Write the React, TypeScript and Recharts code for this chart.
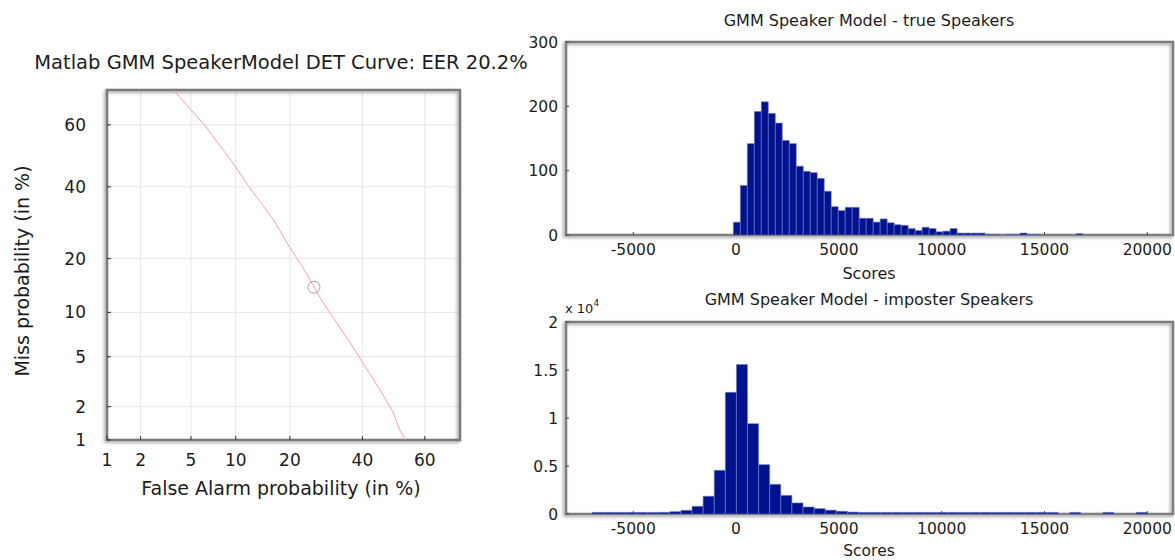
import React from 'react';
import {
  ComposedChart,
  Line,
  Scatter,
  XAxis,
  YAxis,
  CartesianGrid,
  ReferenceArea,
  BarChart,
  Bar,
} from 'recharts';

// ---------- DET curve data (percent) ----------
const detTickLabels = [1, 2, 5, 10, 20, 40, 60];
const detFalseAlarm = [3.65, 6.3, 9.9, 11.9, 16.4, 20.0, 23.1, 28.3, 32.2, 38.2, 40.1, 45.5, 49.8, 52.0, 53.9];
const detMiss = [70.8, 59.7, 46.7, 40.3, 30.2, 22.6, 18.0, 11.5, 8.6, 5.35, 4.5, 2.8, 1.8, 1.24, 1.0];
const eerFalseAlarm = [25.9];
const eerMiss = [14.1];
const detRange = [1, 70.5];

// ---------- Histogram data ----------
const trueBinStart = -131;
const trueBinWidth = 340;
const trueCounts = [
  20, 77, 142, 192, 207, 189, 174, 147, 142, 107, 99, 97, 88, 68, 44, 38, 43, 43, 26, 26,
  20, 25, 19, 16, 15, 10, 7, 12, 10, 5, 6, 10, 3, 3, 3, 3, 1, 1, 0, 1,
  1, 3, 1, 1, 0, 0, 0, 0, 0, 2,
];
const impBinStart = -7000;
const impBinWidth = 540;
const impCounts = [
  160, 160, 160, 160, 160, 160, 170, 240, 380, 800, 1850, 4550, 12670, 15560, 9410, 5140, 3090, 1940, 1150, 730,
  560, 400, 280, 200, 160, 160, 160, 160, 160, 160, 160, 160, 160, 160, 160, 160, 160, 160, 160, 160,
  160, 160, 0, 160, 0, 0, 160, 0, 0, 160,
];
const scoreTicks = [-5000, 0, 5000, 10000, 15000, 20000];
const scoreDomain = [-8270, 21250];
const trueYTicks = [0, 100, 200, 300];
const impYTicks = [0, 5000, 10000, 15000, 20000];

// ---------- helpers ----------
function probit(p: number): number {
  const a = [-3.969683028665376e1, 2.209460984245205e2, -2.759285104469687e2, 1.38357751867269e2, -3.066479806614716e1, 2.506628277459239];
  const b = [-5.447609879822406e1, 1.615858368580409e2, -1.556989798598866e2, 6.680131188771972e1, -1.328068155288572e1];
  const c = [-7.784894002430293e-3, -3.223964580411365e-1, -2.400758277161838, -2.549732539343734, 4.374664141464968, 2.938163982698783];
  const d = [7.784695709041462e-3, 3.224671290700398e-1, 2.445134137142996, 3.754408661907416];
  const plow = 0.02425;
  if (p < plow) {
    const q = Math.sqrt(-2 * Math.log(p));
    return (((((c[0] * q + c[1]) * q + c[2]) * q + c[3]) * q + c[4]) * q + c[5]) / ((((d[0] * q + d[1]) * q + d[2]) * q + d[3]) * q + 1);
  }
  if (p > 1 - plow) {
    const q = Math.sqrt(-2 * Math.log(1 - p));
    return -(((((c[0] * q + c[1]) * q + c[2]) * q + c[3]) * q + c[4]) * q + c[5]) / ((((d[0] * q + d[1]) * q + d[2]) * q + d[3]) * q + 1);
  }
  const q = p - 0.5;
  const r = q * q;
  return ((((((a[0] * r + a[1]) * r + a[2]) * r + a[3]) * r + a[4]) * r + a[5]) * q) / (((((b[0] * r + b[1]) * r + b[2]) * r + b[3]) * r + b[4]) * r + 1);
}

const detTicks = detTickLabels.map((v) => probit(v / 100));
const detDomain = [probit(detRange[0] / 100), probit(detRange[1] / 100)];
const detData = detFalseAlarm.map((fa, i) => ({ x: probit(fa / 100), y: probit(detMiss[i] / 100) }));
const eerData = eerFalseAlarm.map((fa, i) => ({ x: probit(fa / 100), y: probit(eerMiss[i] / 100) }));
const detFmt = (v: number) => {
  let best = 0;
  detTicks.forEach((t, i) => {
    if (Math.abs(t - v) < Math.abs(detTicks[best] - v)) best = i;
  });
  return String(detTickLabels[best]);
};

const trueData = trueCounts.map((c, i) => ({ x: trueBinStart + (i + 0.5) * trueBinWidth, count: c }));
const impData = impCounts.map((c, i) => ({ x: impBinStart + (i + 0.5) * impBinWidth, count: c }));

const DV = 'DejaVu Sans, Verdana, sans-serif';
const TXT = '#1c1c1c';
const BAR_FILL = '#00128f';
const BAR_EDGE = '#6d78bd';

const ShadowDefs = ({ id }: { id: string }) => (
  <defs>
    <filter id={id} x="-5%" y="-5%" width="110%" height="110%">
      <feDropShadow dx="-1.5" dy="1.5" stdDeviation="1.6" floodColor="#000" floodOpacity="0.4" />
    </filter>
  </defs>
);

const EerMarker = (props: any) => {
  const { cx, cy } = props;
  return <circle cx={cx} cy={cy} r={6} fill="none" stroke="#a0a0a0" strokeWidth={1} />;
};

function DetChart() {
  return (
    <ComposedChart width={540} height={560} margin={{ top: 90, right: 80, bottom: 80, left: 47 }}>
      <ShadowDefs id="detShadow" />
      <CartesianGrid stroke="#e7e7e7" strokeWidth={1} />
      <XAxis
        type="number"
        dataKey="x"
        domain={detDomain}
        ticks={detTicks}
        interval={0}
        allowDataOverflow
        tickFormatter={detFmt}
        height={40}
        axisLine={false}
        tickSize={-4}
        tickMargin={18}
        tickLine={{ stroke: '#333' }}
        tick={{ fill: TXT, fontSize: 17, fontFamily: DV }}
      />
      <YAxis
        type="number"
        dataKey="y"
        domain={detDomain}
        ticks={detTicks}
        interval={0}
        allowDataOverflow
        tickFormatter={detFmt}
        width={60}
        axisLine={false}
        tickSize={-4}
        tickMargin={25}
        tickLine={{ stroke: '#333' }}
        tick={{ fill: TXT, fontSize: 17, fontFamily: DV }}
      />
      <XAxis
        xAxisId="top"
        orientation="top"
        type="number"
        dataKey="x"
        domain={detDomain}
        ticks={detTicks}
        interval={0}
        allowDataOverflow
        height={0}
        axisLine={false}
        tick={false}
        tickSize={-4}
        tickLine={{ stroke: '#333' }}
      />
      <YAxis
        yAxisId="right"
        orientation="right"
        type="number"
        dataKey="y"
        domain={detDomain}
        ticks={detTicks}
        interval={0}
        allowDataOverflow
        width={0}
        axisLine={false}
        tick={false}
        tickSize={-4}
        tickLine={{ stroke: '#333' }}
      />
      <ReferenceArea
        x1={detDomain[0]}
        x2={detDomain[1]}
        y1={detDomain[0]}
        y2={detDomain[1]}
        fill="none"
        fillOpacity={0}
        stroke="#7a7a7a"
        strokeWidth={2.5}
        filter="url(#detShadow)"
        ifOverflow="visible"
      />
      <Line
        data={detData}
        dataKey="y"
        type="linear"
        stroke="#f2a4a4"
        strokeWidth={1}
        dot={false}
        activeDot={false}
        isAnimationActive={false}
      />
      <Scatter data={eerData} dataKey="y" shape={<EerMarker />} isAnimationActive={false} />
    </ComposedChart>
  );
}

function Histogram({
  data,
  yTicks,
  yFmt,
  width,
  height,
  margin,
  shadowId,
}: {
  data: { x: number; count: number }[];
  yTicks: number[];
  yFmt: (v: number) => string;
  width: number;
  height: number;
  margin: { top: number; right: number; bottom: number; left: number };
  shadowId: string;
}) {
  const yDomain = [yTicks[0], yTicks[yTicks.length - 1]];
  return (
    <BarChart width={width} height={height} data={data} margin={margin} barCategoryGap={0} barGap={0}>
      <ShadowDefs id={shadowId} />
      <XAxis
        type="number"
        dataKey="x"
        domain={scoreDomain}
        ticks={scoreTicks}
        interval={0}
        allowDataOverflow
        height={30}
        axisLine={false}
        tickSize={-3}
        tickMargin={12}
        tickLine={{ stroke: '#444' }}
        tick={{ fill: TXT, fontSize: 15.5, fontFamily: DV }}
      />
      <YAxis
        type="number"
        domain={yDomain}
        ticks={yTicks}
        interval={0}
        allowDataOverflow
        tickFormatter={yFmt}
        width={50}
        axisLine={false}
        tickSize={-3}
        tickMargin={11}
        tickLine={{ stroke: '#444' }}
        tick={{ fill: TXT, fontSize: 15.5, fontFamily: DV }}
      />
      <XAxis
        xAxisId="top"
        orientation="top"
        type="number"
        dataKey="x"
        domain={scoreDomain}
        ticks={scoreTicks}
        interval={0}
        allowDataOverflow
        height={0}
        axisLine={false}
        tick={false}
        tickSize={-3}
        tickLine={{ stroke: '#444' }}
      />
      <YAxis
        yAxisId="right"
        orientation="right"
        type="number"
        domain={yDomain}
        ticks={yTicks}
        interval={0}
        allowDataOverflow
        width={0}
        axisLine={false}
        tick={false}
        tickSize={-3}
        tickLine={{ stroke: '#444' }}
      />
      <Bar dataKey="count" fill={BAR_FILL} stroke={BAR_EDGE} strokeWidth={0.6} isAnimationActive={false} />
      <ReferenceArea
        x1={scoreDomain[0]}
        x2={scoreDomain[1]}
        y1={yDomain[0]}
        y2={yDomain[1]}
        fill="none"
        fillOpacity={0}
        stroke="#7f7f7f"
        strokeWidth={2.5}
        filter={`url(#${shadowId})`}
        ifOverflow="visible"
      />
    </BarChart>
  );
}

export default function App() {
  return (
    <div
      style={{
        position: 'absolute',
        left: 0,
        top: 0,
        width: 1175,
        height: 560,
        background: '#fff',
        overflow: 'hidden',
      }}
    >
      <div style={{ position: 'absolute', left: 0, top: 0 }}>
        <DetChart />
      </div>
      <div style={{ position: 'absolute', left: 480, top: 0 }}>
        <Histogram
          data={trueData}
          yTicks={trueYTicks}
          yFmt={(v) => String(v)}
          width={695}
          height={290}
          margin={{ top: 42, right: 2, bottom: 25, left: 36 }}
          shadowId="trueShadow"
        />
      </div>
      <div style={{ position: 'absolute', left: 480, top: 280 }}>
        <Histogram
          data={impData}
          yTicks={impYTicks}
          yFmt={(v) => String(v / 10000)}
          width={695}
          height={280}
          margin={{ top: 42, right: 2, bottom: 16, left: 36 }}
          shadowId="impShadow"
        />
      </div>
      <svg
        width={1175}
        height={560}
        style={{ position: 'absolute', left: 0, top: 0, pointerEvents: 'none' }}
      >
        <g fill={TXT} fontFamily={DV}>
          <text x={281} y={68.8} fontSize={19.5} textAnchor="middle">
            Matlab GMM SpeakerModel DET Curve: EER 20.2%
          </text>
          <text x={281} y={495} fontSize={19} textAnchor="middle">
            False Alarm probability (in %)
          </text>
          <text x={29.3} y={271} fontSize={19} textAnchor="middle" transform="rotate(-90 29.3 271)">
            Miss probability (in %)
          </text>
          <text x={869} y={25.8} fontSize={16} textAnchor="middle">
            GMM Speaker Model - true Speakers
          </text>
          <text x={869} y={279.3} fontSize={16} textAnchor="middle">
            Scores
          </text>
          <text x={869} y={304.8} fontSize={16} textAnchor="middle">
            GMM Speaker Model - imposter Speakers
          </text>
          <text x={869} y={556} fontSize={15.5} textAnchor="middle">
            Scores
          </text>
          <text x={565} y={313} fontSize={13}>
            x 10
            <tspan fontSize={9} dy={-7}>
              4
            </tspan>
          </text>
        </g>
      </svg>
    </div>
  );
}
